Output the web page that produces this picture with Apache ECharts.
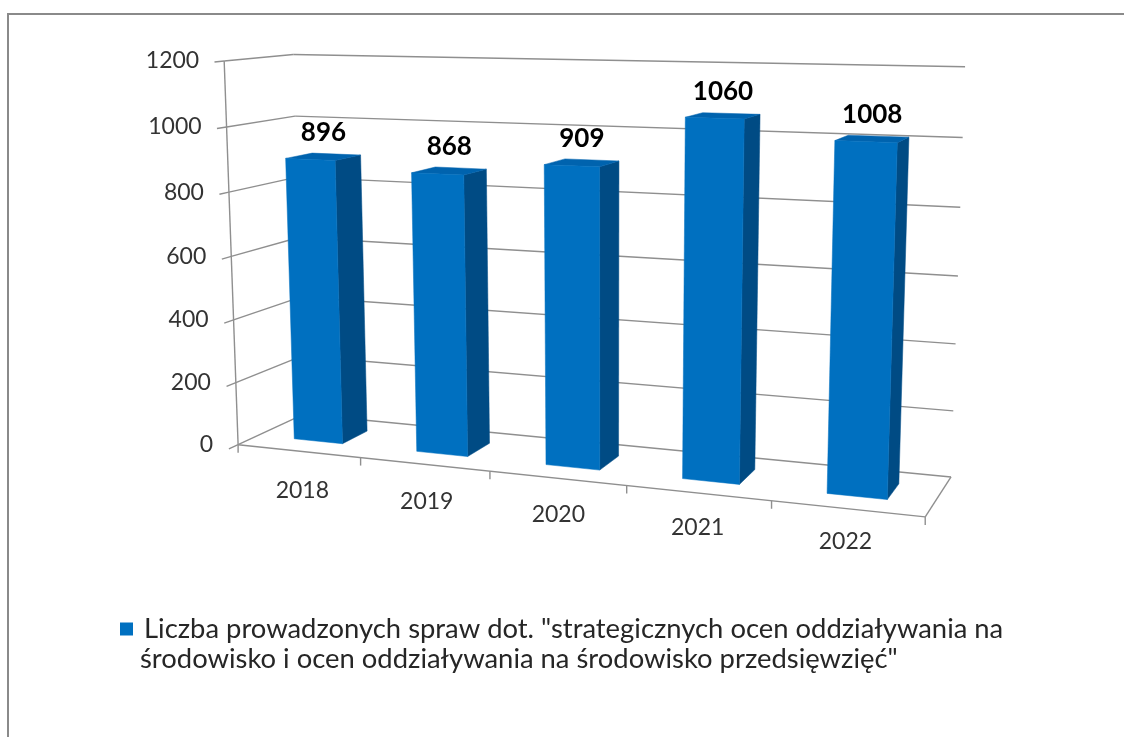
<!DOCTYPE html>
<html>
<head>
<meta charset="utf-8">
<script src="https://cdn.jsdelivr.net/npm/echarts@6/dist/echarts.min.js"></script>
<style>
html,body{margin:0;padding:0;background:#fff;}
#chart{width:1124px;height:737px;}
</style>
</head>
<body>
<div id="chart"></div>
<script>
// ---- data ----
const years = ['2018', '2019', '2020', '2021', '2022'];
const values = [896, 868, 909, 1060, 1008];
const yTicks = [0, 200, 400, 600, 800, 1000, 1200];
const seriesName = 'Liczba prowadzonych spraw dot. "strategicznych ocen oddziaływania na środowisko i ocen oddziaływania na środowisko przedsięwzięć"';
const legendLines = ['Liczba prowadzonych spraw dot. "strategicznych ocen oddziaływania na', 'środowisko i ocen oddziaływania na środowisko przedsięwzięć"'];

// ---- perspective camera fitted to the 3D frame (u: categories, v: value, w: depth) ----
const frameRefs = [
  [0, 0, 0, 238, 445], [0, 1/6, 0, 235.5, 382], [0, 2/6, 0, 233, 318.5], [0, 3/6, 0, 231, 256.7],
  [0, 4/6, 0, 229, 192], [0, 5/6, 0, 227, 127.3], [0, 1, 0, 225, 61],
  [0, 0, 1, 305, 414.5], [0, 5/6, 1, 294, 116], [0, 1, 1, 293, 55],
  [1, 1, 1, 965, 67], [1, 5/6, 1, 963.3, 137.3], [1, 1/6, 1, 953, 410], [1, 0, 1, 951, 477],
  [1, 0, 0, 925, 517], [0.2, 0, 0, 360.6, 458], [0.4, 0, 0, 490.4, 471.5], [0.6, 0, 0, 626.8, 486], [0.8, 0, 0, 771.2, 501]
];
function fitCamera(refs) {
  const n = 11;
  const M = [], B = [];
  for (let i = 0; i < n; i++) { M.push(new Array(n).fill(0)); B.push(0); }
  function add(row, b) {
    for (let i = 0; i < n; i++) {
      B[i] += row[i] * b;
      for (let j = 0; j < n; j++) M[i][j] += row[i] * row[j];
    }
  }
  refs.forEach(r => {
    const [u, v, w, x, y] = r;
    add([u, v, w, 1, 0, 0, 0, 0, -x * u, -x * v, -x * w], x);
    add([0, 0, 0, 0, u, v, w, 1, -y * u, -y * v, -y * w], y);
  });
  for (let c = 0; c < n; c++) {
    let p = c;
    for (let r = c + 1; r < n; r++) if (Math.abs(M[r][c]) > Math.abs(M[p][c])) p = r;
    [M[c], M[p]] = [M[p], M[c]]; [B[c], B[p]] = [B[p], B[c]];
    for (let r = 0; r < n; r++) {
      if (r === c) continue;
      const f = M[r][c] / M[c][c];
      if (!f) continue;
      for (let k = c; k < n; k++) M[r][k] -= f * M[c][k];
      B[r] -= f * B[c];
    }
  }
  return B.map((b, i) => b / M[i][i]);
}
const cam = fitCamera(frameRefs);
function P(u, v, w) {
  const d = cam[8] * u + cam[9] * v + cam[10] * w + 1;
  return [(cam[0] * u + cam[1] * v + cam[2] * w + cam[3]) / d,
          (cam[4] * u + cam[5] * v + cam[6] * w + cam[7]) / d];
}

const GRID = '#8f8f8f';
const FAMILY = 'Lato, "Open Sans", sans-serif';
const AX_FONT = '23px ' + FAMILY;
const LBL_FONT = 'bold 26px ' + FAMILY;
const LEG_SIZE = 27.4;

function toUV(params, api, cat, val) {
  const cs = params.coordSys;
  const pt = api.coord([cat, val]);
  return [(pt[0] - cs.x) / cs.width, (cs.y + cs.height - pt[1]) / cs.height];
}
function line(a, b, color, width) {
  return { type: 'line', shape: { x1: a[0], y1: a[1], x2: b[0], y2: b[1] },
           style: { stroke: color || GRID, lineWidth: width || 1.4 } };
}
function text(x, y, str, font, fill, align, valign) {
  return { type: 'text', x: x, y: y,
           style: { text: str, font: font, fill: fill, align: align, verticalAlign: valign,
                    textAlign: align, textVerticalAlign: valign } };
}

function renderFrame(params, api) {
  const cs = params.coordSys;
  const kids = [];
  const bandU = api.size([1, 0])[0] / cs.width;
  // gridlines on side and back walls + y labels and ticks
  yTicks.forEach(t => {
    const v = toUV(params, api, 0, t)[1];
    const f = P(0, v, 0), b = P(0, v, 1), r = P(1, v, 1);
    kids.push(line(f, b));
    kids.push(line(b, r));
    kids.push(line(f, P(0, v, -0.13)));
    kids.push(text(f[0] - 25, f[1], String(t), AX_FONT, '#333', 'right', 'middle'));
  });
  // front vertical edge of side wall
  kids.push(line(P(0, 0, 0), P(0, 1, 0)));
  // floor front and right edges
  kids.push(line(P(0, 0, 0), P(1, 0, 0)));
  kids.push(line(P(1, 0, 0), P(1, 0, 1)));
  // category ticks and labels
  for (let k = 0; k <= years.length; k++) {
    const uc = k < years.length ? toUV(params, api, k, 0)[0] - bandU / 2 : 1;
    const p = P(uc, 0, 0);
    kids.push(line(p, [p[0], p[1] + 8]));
  }
  years.forEach((y, i) => {
    const uc = toUV(params, api, i, 0)[0];
    const p = P(uc, 0, 0);
    kids.push(text(p[0] + 4.5 - 7 * uc, p[1] + 40 - 8 * uc, y, AX_FONT, '#333', 'center', 'middle'));
  });
  return { type: 'group', children: kids };
}

function renderBar(params, api) {
  const cs = params.coordSys;
  const i = api.value(0), val = api.value(1);
  const uc = toUV(params, api, i, 0)[0];
  const v = toUV(params, api, i, val)[1];
  const hw = api.size([1, 0])[0] / cs.width * 0.2;
  const u0 = uc - hw, u1 = uc + hw, w0 = 0.3, w1 = 0.7;
  const poly = (pts, c) => ({ type: 'polygon', shape: { points: pts }, style: { fill: c, stroke: c, lineWidth: 0.5 } });
  const side = poly([P(u1, 0, w0), P(u1, 0, w1), P(u1, v, w1), P(u1, v, w0)], '#004B84');
  const top = poly([P(u0, v, w0), P(u1, v, w0), P(u1, v, w1), P(u0, v, w1)], '#0063AE');
  const front = poly([P(u0, 0, w0), P(u1, 0, w0), P(u1, v, w0), P(u0, v, w0)], '#0070C0');
  const tc = P(uc, v, 0.5);
  const lbl = text(tc[0], tc[1] - 11, String(val), LBL_FONT, '#000', 'center', 'bottom');
  return { type: 'group', children: [side, top, front, lbl] };
}

const chart = echarts.init(document.getElementById('chart'), null, { renderer: 'canvas' });
chart.setOption({
  animation: false,
  backgroundColor: '#ffffff',
  grid: { left: 225, top: 61, width: 700, height: 385, containLabel: false },
  xAxis: { type: 'category', data: years, show: false },
  yAxis: { type: 'value', min: 0, max: 1200, interval: 200, show: false },
  legend: {
    left: 115, top: 608,
    icon: 'rect', itemWidth: 13, itemHeight: 13,
    data: [seriesName],
    formatter: () => legendLines[0],
    textStyle: { fontFamily: FAMILY, fontSize: LEG_SIZE, lineHeight: 32, color: '#262626', padding: [0, 0, 0, 6] }
  },
  graphic: [
    { type: 'rect', shape: { x: 8, y: 14, width: 1140, height: 760 },
      style: { fill: 'none', stroke: '#8a8a8a', lineWidth: 2 }, silent: true, z: -10 },
    { type: 'text', left: 140, top: 646, silent: true,
      style: { text: legendLines[1], fill: '#262626', font: LEG_SIZE + 'px ' + FAMILY } }
  ],
  series: [
    { type: 'custom', name: 'frame', silent: true, z: 1, data: [[0, 0]], renderItem: renderFrame, tooltip: { show: false } },
    { type: 'custom', name: seriesName, z: 2, itemStyle: { color: '#0070C0' },
      data: values.map((v, i) => [i, v]), encode: { x: 0, y: 1 }, renderItem: renderBar }
  ]
});
</script>
</body>
</html>
